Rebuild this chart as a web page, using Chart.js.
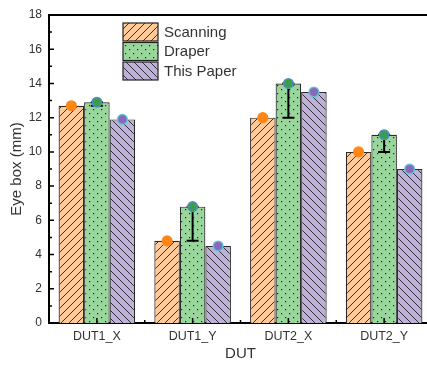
<!DOCTYPE html>
<html>
<head>
<meta charset="utf-8">
<script src="https://cdn.jsdelivr.net/npm/chart.js@4"></script>
<style>
  html,body{margin:0;padding:0;background:#fff;overflow:hidden;}
  #wrap{width:440px;height:366px;}
</style>
</head>
<body>
<div id="wrap"><canvas id="c"></canvas></div>
<script>
const categories = ['DUT1_X','DUT1_Y','DUT2_X','DUT2_Y'];
const seriesNames = ['Scanning','Draper','This Paper'];
const scanning = [12.7, 4.8, 12.0, 10.0];
const draper = [12.9, 6.8, 14.0, 11.0];
const thisPaper = [11.9, 4.5, 13.5, 9.0];
const draperLow = [12.7, 4.8, 12.0, 10.0];
const yTicks = [0,2,4,6,8,10,12,14,16,18];

const fills = ['#FFCA9A','#99D69B','#BEB1D9'];
const dotFill = ['#FF8515','#3C9D45','#8B68B7'];
const dotEdge = ['#FF8515','#4A8FD6','#5EC3DA'];

function makePattern(bg, kind){
  const s = 8;
  const cv = document.createElement('canvas');
  cv.width = s; cv.height = s;
  const g = cv.getContext('2d');
  g.fillStyle = bg; g.fillRect(0,0,s,s);
  g.strokeStyle = '#222'; g.lineWidth = 0.9;
  if(kind==='fwd'){
    g.beginPath();
    g.moveTo(0,s); g.lineTo(s,0);
    g.moveTo(-s/2,s/2); g.lineTo(s/2,-s/2);
    g.moveTo(s/2,s*1.5); g.lineTo(s*1.5,s/2);
    g.stroke();
  } else if(kind==='back'){
    g.beginPath();
    g.moveTo(0,0); g.lineTo(s,s);
    g.moveTo(-s/2,s/2); g.lineTo(s/2,s*1.5);
    g.moveTo(s/2,-s/2); g.lineTo(s*1.5,s/2);
    g.stroke();
  } else {
    g.fillStyle = '#222';
    g.fillRect(1,1,1.2,1.2);
    g.fillRect(5,5,1.2,1.2);
  }
  return g.createPattern(cv,'repeat');
}
const patterns = [makePattern(fills[0],'fwd'), makePattern(fills[1],'dot'), makePattern(fills[2],'back')];

const decor = {
  id:'decor',
  afterDatasetsDraw(chart){
    const ctx = chart.ctx, y = chart.scales.y, x = chart.scales.x, a = chart.chartArea;
    ctx.save();
    // error bars on Draper
    const dm = chart.getDatasetMeta(1);
    ctx.strokeStyle = '#000'; ctx.lineWidth = 2;
    dm.data.forEach((el,i)=>{
      const yl = y.getPixelForValue(draperLow[i]);
      ctx.beginPath();
      ctx.moveTo(el.x, el.y); ctx.lineTo(el.x, yl);
      ctx.moveTo(el.x-6, yl); ctx.lineTo(el.x+6, yl);
      ctx.moveTo(el.x-6, el.y); ctx.lineTo(el.x+6, el.y);
      ctx.stroke();
    });
    // dots
    for(let d=0; d<3; d++){
      chart.getDatasetMeta(d).data.forEach(el=>{
        ctx.beginPath();
        ctx.arc(el.x, el.y, 4.8, 0, Math.PI*2);
        ctx.fillStyle = dotFill[d]; ctx.fill();
        ctx.lineWidth = 1.5; ctx.strokeStyle = dotEdge[d]; ctx.stroke();
      });
    }
    // inward ticks
    ctx.strokeStyle = '#000'; ctx.lineWidth = 1.5;
    ctx.beginPath();
    for(let v=0; v<=18; v++){
      const py = y.getPixelForValue(v);
      const len = v%2===0 ? 5 : 3;
      ctx.moveTo(a.left, py); ctx.lineTo(a.left+len, py);
    }
    categories.forEach((c,i)=>{
      const px = x.getPixelForValue(i);
      ctx.moveTo(px, a.bottom); ctx.lineTo(px, a.bottom-5);
      const pm = px + (x.getPixelForValue(1)-x.getPixelForValue(0))/2;
      ctx.moveTo(pm, a.bottom); ctx.lineTo(pm, a.bottom-3);
    });
    ctx.stroke();
    // top frame line
    ctx.lineWidth = 2;
    ctx.beginPath();
    ctx.moveTo(a.left, a.top); ctx.lineTo(a.right, a.top);
    ctx.stroke();
    // legend
    ctx.font = '15px "Liberation Sans", Arial, sans-serif';
    ctx.textBaseline = 'middle'; ctx.textAlign = 'left';
    seriesNames.forEach((n,i)=>{
      const bx = 123, by = 23 + i*19.5;
      ctx.fillStyle = patterns[i];
      ctx.fillRect(bx, by, 35, 18);
      ctx.strokeStyle = '#222'; ctx.lineWidth = 1.2;
      ctx.strokeRect(bx, by, 35, 18);
      ctx.fillStyle = '#333';
      ctx.fillText(n, 164, by+9.5);
    });
    ctx.restore();
  }
};

new Chart(document.getElementById('c'), {
  type:'bar',
  data:{
    labels: categories,
    datasets: [scanning, draper, thisPaper].map((vals,i)=>({
      label: seriesNames[i],
      data: vals,
      backgroundColor: patterns[i],
      borderColor: '#2a2a2a',
      borderWidth: 1.2,
      categoryPercentage: 0.8,
      barPercentage: 1.0
    }))
  },
  options:{
    responsive:true,
    maintainAspectRatio:false,
    animation:false,
    layout:{padding:{top:15,right:8,left:0,bottom:0}},
    plugins:{legend:{display:false},tooltip:{enabled:false}},
    scales:{
      x:{
        grid:{display:false, drawTicks:false},
        border:{display:true, color:'#000', width:2},
        ticks:{color:'#333', font:{family:'"Liberation Sans", Arial', size:12.5}, padding:6},
        title:{display:true, text:'DUT', color:'#333', font:{family:'"Liberation Sans", Arial', size:15}, padding:{top:2,bottom:3}},
        afterFit(s){ s.height = 43; }
      },
      y:{
        min:0, max:18,
        afterBuildTicks(s){ s.ticks = yTicks.map(v=>({value:v})); },
        grid:{display:false, drawTicks:false},
        border:{display:true, color:'#000', width:2},
        ticks:{color:'#333', font:{family:'"Liberation Sans", Arial', size:12}, padding:7},
        title:{display:true, text:'Eye box (mm)', color:'#333', font:{family:'"Liberation Sans", Arial', size:15}, padding:{top:8,bottom:0}},
        afterFit(s){ s.width = 49; }
      }
    }
  },
  plugins:[decor]
});
</script>
</body>
</html>
